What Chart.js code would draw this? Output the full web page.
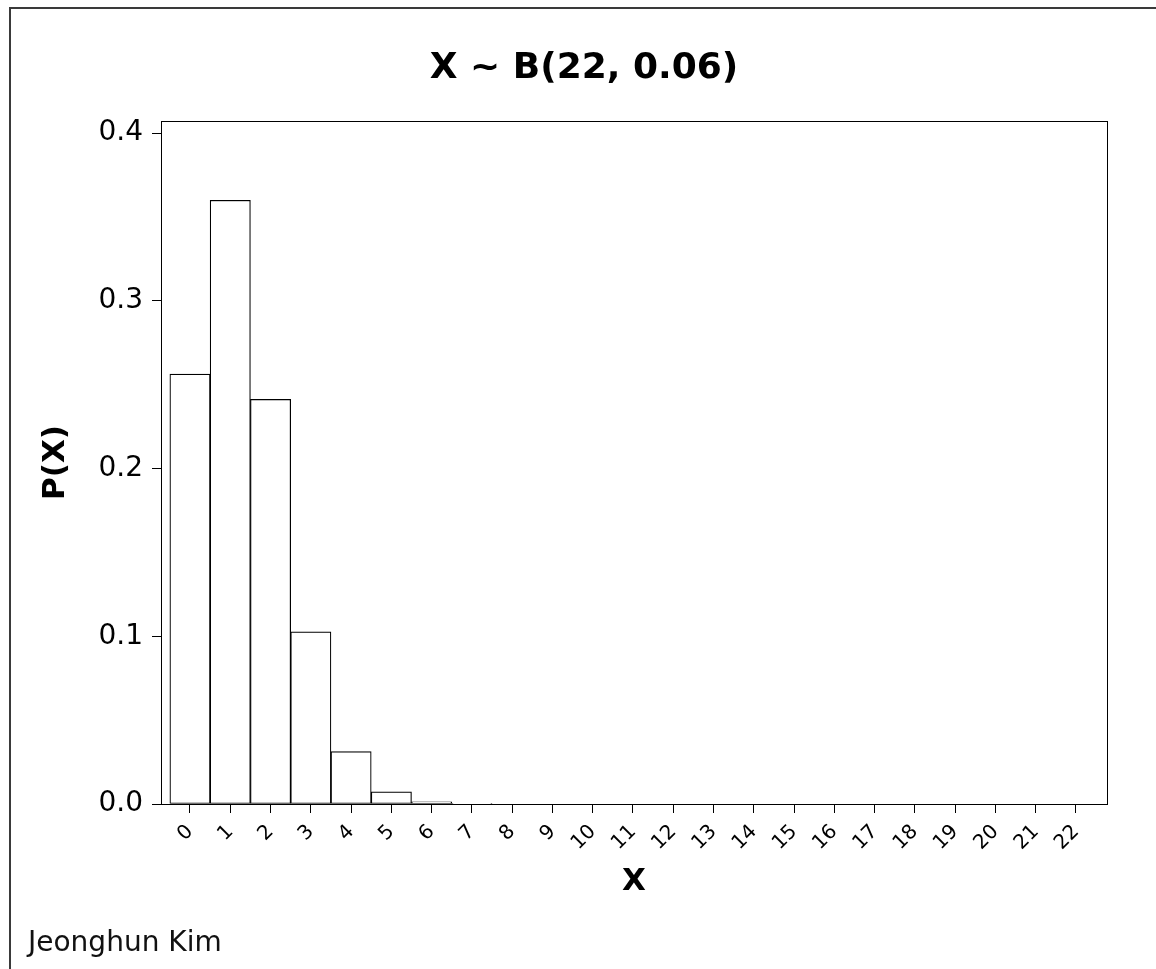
<!DOCTYPE html>
<html>
<head>
<meta charset="utf-8">
<title>X ~ B(22, 0.06)</title>
<script src="https://cdn.jsdelivr.net/npm/chart.js@4.4.1/dist/chart.umd.min.js"></script>
<style>
    body { margin: 0; background: #fff; overflow: hidden; }
    .frame { position: absolute; left: 9px; top: 7px; width: 2000px; height: 2000px; border-top: 2px solid #3a3a3a; border-left: 2px solid #3a3a3a; }
    .chart-box { position: absolute; left: 0; top: 0; width: 1170px; height: 969px; }
</style>
</head>
<body>
<div class="chart-box">
    <canvas id="my-chart"></canvas>
</div>
<div class="frame"></div>
<script>
let categories = [0, 1, 2, 3, 4, 5, 6, 7, 8, 9, 10, 11, 12, 13, 14, 15, 16, 17, 18, 19, 20, 21, 22];
let probs = [0.2563, 0.3599, 0.2412, 0.1026, 0.0312, 0.0072, 0.0013, 0.0002, 0, 0, 0, 0, 0, 0, 0, 0, 0, 0, 0, 0, 0, 0, 0];
let yTicks = [0, 0.1, 0.2, 0.3, 0.4];
let chartTitle = 'X ~ B(22, 0.06)';
let footerText = 'Jeonghun Kim';

Chart.defaults.font.family = "'DejaVu Sans', sans-serif";
Chart.defaults.color = '#000';

// box round the plot + title and name, drawn by hand
let framePlugin = {
    id: 'framePlugin',
    afterDraw: function (chart) {
        let ctx = chart.ctx;
        let a = chart.chartArea;
        ctx.save();
        ctx.strokeStyle = '#000';
        ctx.lineWidth = 1;
        ctx.strokeRect(Math.round(a.left) + 0.5, Math.round(a.top) + 0.5,
            Math.round(a.right - a.left), Math.round(a.bottom - a.top));

        ctx.fillStyle = '#000';
        ctx.font = "bold 36px 'DejaVu Sans'";
        ctx.textAlign = 'center';
        ctx.textBaseline = 'alphabetic';
        ctx.fillText(chartTitle, 584, 78);

        ctx.fillStyle = '#111';
        ctx.font = "28px 'DejaVu Sans'";
        ctx.textAlign = 'left';
        ctx.fillText(footerText, 28, 951);
        ctx.restore();
    }
};

function makeChart() {
    let myChart = document.getElementById('my-chart').getContext('2d');

    let binomChart = new Chart(myChart, {
        type: 'bar',
        data: {
            datasets: [{
                label: 'P(X)',
                data: categories.map(function (c, i) { return { x: c, y: probs[i] }; }),
                backgroundColor: '#fff',
                borderColor: '#000',
                borderWidth: 1.2,
                borderSkipped: false,
                barPercentage: 1,
                categoryPercentage: 1
            }]
        },
        options: {
            responsive: true,
            maintainAspectRatio: false,
            animation: false,
            layout: {
                padding: { top: 121, right: 63, left: 0, bottom: 0 }
            },
            plugins: {
                legend: { display: false },
                tooltip: { enabled: false },
                title: { display: false }
            },
            scales: {
                x: {
                    type: 'linear',
                    min: -0.72,
                    max: 22.77,
                    offset: false,
                    afterBuildTicks: function (scale) {
                        scale.ticks = categories.map(function (v) { return { value: v }; });
                    },
                    afterFit: function (scale) {
                        scale.height = 165;
                    },
                    ticks: {
                        autoSkip: false,
                        maxRotation: 45,
                        minRotation: 45,
                        padding: 7,
                        font: { size: 20 },
                        callback: function (v) { return String(v); }
                    },
                    grid: {
                        offset: false,
                        drawOnChartArea: false,
                        drawTicks: true,
                        tickLength: 9,
                        tickWidth: 1,
                        color: '#000'
                    },
                    border: { display: false },
                    title: {
                        display: true,
                        text: 'X',
                        font: { size: 31, weight: 'bold' },
                        padding: { top: 0, bottom: 68 }
                    }
                },
                y: {
                    min: 0,
                    max: 0.4072,
                    afterBuildTicks: function (scale) {
                        scale.ticks = yTicks.map(function (v) { return { value: v }; });
                    },
                    afterFit: function (scale) {
                        scale.width = 161;
                    },
                    ticks: {
                        padding: 9,
                        font: { size: 28 },
                        callback: function (v) { return v.toFixed(1); }
                    },
                    grid: {
                        drawOnChartArea: false,
                        drawTicks: true,
                        tickLength: 9,
                        tickWidth: 1,
                        color: '#000'
                    },
                    border: { display: false },
                    title: {
                        display: true,
                        text: 'P(X)',
                        font: { size: 31, weight: 'bold' },
                        padding: { top: 37, bottom: 0 }
                    }
                }
            }
        },
        plugins: [framePlugin]
    });
}

makeChart();
</script>
</body>
</html>
